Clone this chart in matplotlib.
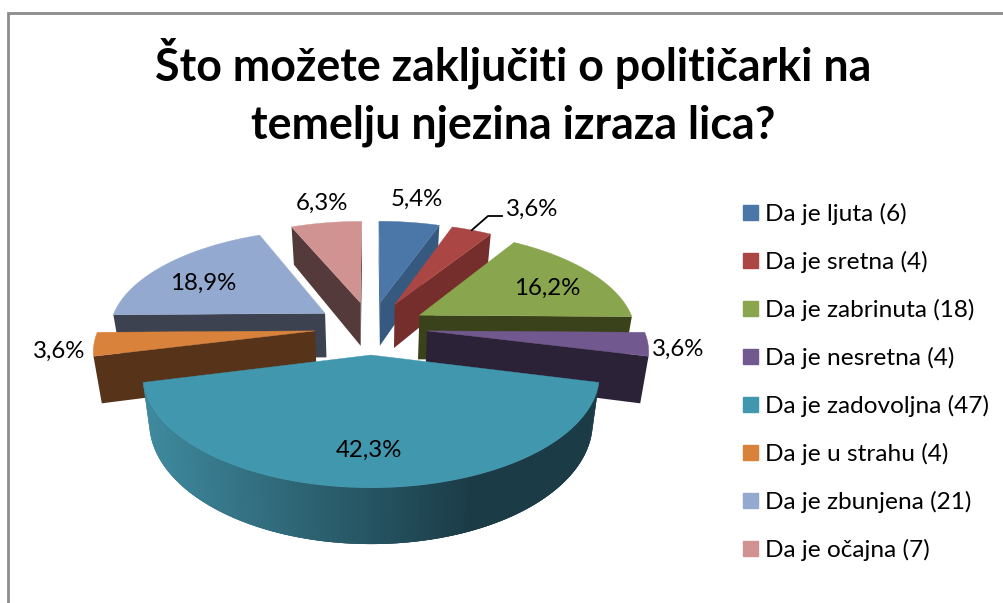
import numpy as np
import matplotlib
matplotlib.use("Agg")
import matplotlib.pyplot as plt
from matplotlib.patches import Polygon, Patch
from matplotlib.colors import to_rgb

title = "Što možete zaključiti o političarki na\ntemelju njezina izraza lica?"
categories = ["Da je ljuta", "Da je sretna", "Da je zabrinuta", "Da je nesretna",
              "Da je zadovoljna", "Da je u strahu", "Da je zbunjena", "Da je očajna"]
counts = [6, 4, 18, 4, 47, 4, 21, 7]
top_colors = ["#4a76a8", "#aa4644", "#89a54e", "#71588f", "#4197ae", "#d8823b", "#93a9cf", "#d09392"]
side_colors = ["#35597f", "#752e2c", "#3a421c", "#2c2238", "#1b3c47", "#57331a", "#3c4250", "#543a3a"]
label_xy = [(417, 199), (532, 209), (547, 288), (678, 349), (369, 450), (59, 351), (203, 283), (322, 203)]

# projection parameters
CX, CY, R, K, P, H, EXPLODE, CONV = 371, 327.5, 216, 0.47, 0.16, 45, 0.26, 0.03


def project(X, Y, Z=0.0):
    s = 1.0 / (1.0 + P * np.asarray(Y))
    return np.column_stack([CX + R * s * np.asarray(X) * (1 - CONV * Z),
                            CY - R * K * s * np.asarray(Y) + H * Z * s])


def area(p):
    x, y = p[:, 0], p[:, 1]
    return 0.5 * np.sum(x * np.roll(y, -1) - np.roll(x, -1) * y)


fig = plt.figure(figsize=(10.04, 6.03), dpi=100)
ax = fig.add_axes([0, 0, 1, 1])
ax.set_xlim(0, 1004)
ax.set_ylim(603, 0)
ax.axis("off")

ax.plot([8.5, 8.5, 1004], [603, 12.5, 12.5], color="#8c8c8c", lw=2, solid_joinstyle="miter", zorder=0)

total = sum(counts)
edges = np.cumsum([0] + counts) / total * 2 * np.pi
mids = (edges[:-1] + edges[1:]) / 2
order = np.argsort(-np.cos(mids))

teal_left = np.array(to_rgb("#3f8a9f"))
teal_right = np.array(to_rgb("#1b3c47"))
red_rim_mid = None

z = 1
for i in order:
    a0, a1, m = edges[i], edges[i + 1], mids[i]
    ox, oy = EXPLODE * np.sin(m), EXPLODE * np.cos(m)
    th = np.linspace(a0, a1, max(int(np.degrees(a1 - a0)) * 2, 4) + 1)
    X = ox + np.sin(th)
    Y = oy + np.cos(th)
    top = project(X, Y)
    bot = project(X, Y, 1.0)
    v_top = project([ox], [oy])
    v_bot = project([ox], [oy], 1.0)
    if i == 1:
        red_rim_mid = project([ox + np.sin(m)], [oy + np.cos(m)])[0]
    # outer rim (overlapping strips so no seams show)
    xmin, xmax = 145.0, 470.0
    for j in range(len(th) - 1):
        q = np.array([top[j], top[j + 1], bot[j + 1], bot[j]])
        if area(q) > 0:
            continue
        k2 = min(j + 3, len(th) - 1)
        q2 = np.array([top[j], top[k2], bot[k2], bot[j]])
        if i == 4:
            t = np.clip((q[:, 0].mean() - xmin) / (xmax - xmin), 0, 1)
            c = teal_left + (teal_right - teal_left) * t
        else:
            c = side_colors[i]
        ax.add_patch(Polygon(q2, closed=True, fc=c, ec="none", zorder=z))
        z += 1
    # radial cut faces
    for p_top, p_bot, sgn in [(top[0], bot[0], -1), (top[-1], bot[-1], 1)]:
        q = np.array([v_top[0], p_top, p_bot, v_bot[0]])
        if sgn * area(q) > 0:
            ax.add_patch(Polygon(q, closed=True, fc=side_colors[i], ec="none", zorder=z))
            z += 1
    # top face
    ax.add_patch(Polygon(np.vstack([v_top, top]), closed=True, fc=top_colors[i], ec=top_colors[i], lw=0.3, zorder=z))
    z += 1

font = ["Lato", "DejaVu Sans"]
ax.text(513, 92, title, ha="center", va="center", fontsize=32.2, fontweight="bold",
        family=font, color="black", linespacing=1.47, zorder=z + 5)

for (x, y), c in zip(label_xy, counts):
    s = f"{c / total * 100:.1f}%".replace(".", ",")
    ax.text(x, y, s, ha="center", va="center", fontsize=17.3, family=font, color="black", zorder=z + 5)

ax.plot([red_rim_mid[0], 488, 502], [red_rim_mid[1], 216, 216], color="black", lw=1.3, zorder=z + 4)

handles = [Patch(fc=c, ec=c) for c in top_colors]
labels = [f"{n} ({c})" for n, c in zip(categories, counts)]
leg = ax.legend(handles, labels, loc="upper left", bbox_to_anchor=(743 / 1004, 1 - 203 / 603),
                frameon=False, borderpad=0, borderaxespad=0, handlelength=0.62, handleheight=0.62,
                handletextpad=0.29, labelspacing=1.06, prop={"family": font, "size": 17.6})

fig.savefig("out.png", dpi=100, facecolor="white")
